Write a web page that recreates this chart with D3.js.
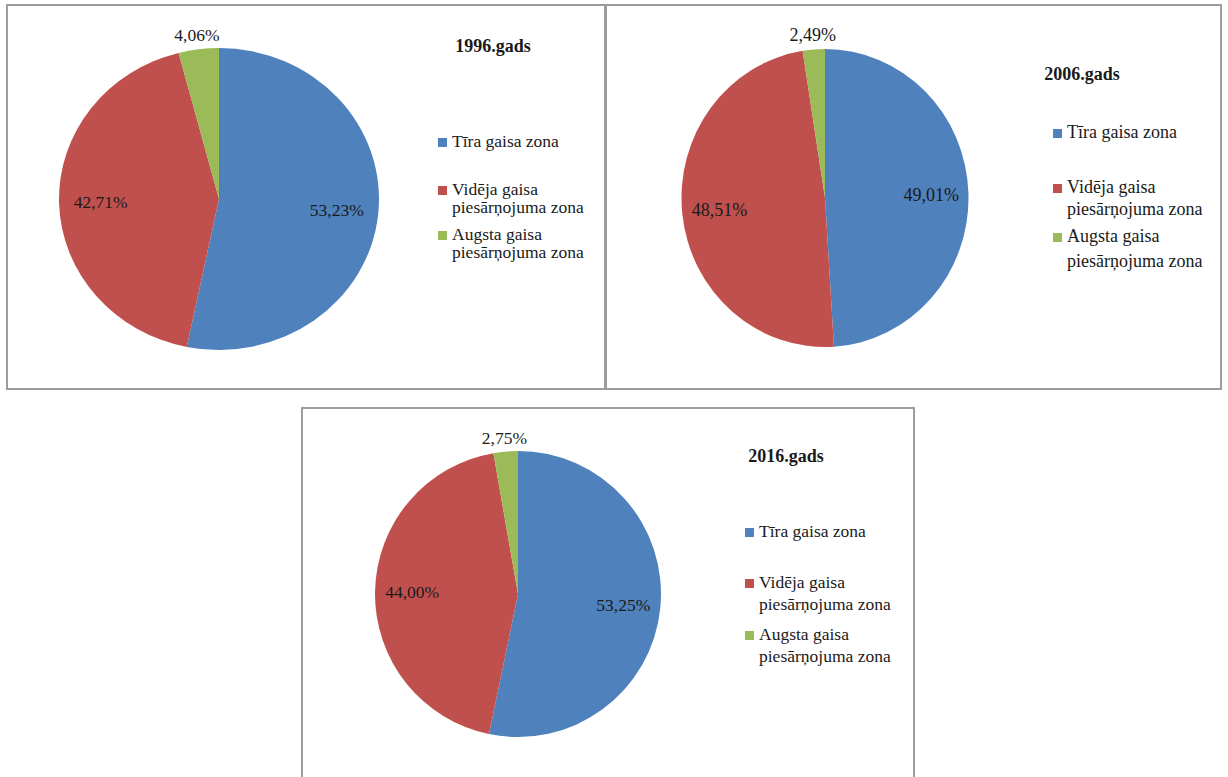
<!DOCTYPE html>
<html>
<head>
<meta charset="utf-8">
<script src="https://cdn.jsdelivr.net/npm/d3@7"></script>
<style>
  html, body { margin: 0; padding: 0; background: #fff; }
  svg { display: block; }
</style>
</head>
<body>
<svg id="chart" width="1228" height="777"></svg>
<script>
// === DATA =====================================================
const years = ["1996.gads", "2006.gads", "2016.gads"];
const categories = ["Tīra gaisa zona", "Vidēja gaisa piesārņojuma zona", "Augsta gaisa piesārņojuma zona"];
const legendLines = [["Tīra gaisa zona"], ["Vidēja gaisa", "piesārņojuma zona"], ["Augsta gaisa", "piesārņojuma zona"]];
const values1996 = [53.23, 42.71, 4.06];
const values2006 = [49.01, 48.51, 2.49];
const values2016 = [53.25, 44.00, 2.75];
const seriesValues = [values1996, values2006, values2016];
const colors = ["#4F81BD", "#C0504D", "#9BBB59"];

const FONT = "'Liberation Serif', 'Times New Roman', Times, 'DejaVu Serif', serif";

// === LAYOUT (one entry per panel) =============================
const PANELS = [
    { box: [7, 5, 598, 384], cx: 219, cy: 199, rx: 160, ry: 151,
      title: [493, 52], fs: 17.5, legend: { x: 438, rows: [[147], [195, 213], [240, 258]] } },
    { box: [606, 5, 615, 384], cx: 825, cy: 198, rx: 143.5, ry: 149,
      title: [1082, 80], fs: 18, legend: { x: 1053, rows: [[138], [193, 215], [242, 267]] } },
    { box: [302, 408, 612, 390], cx: 518, cy: 594, rx: 143, ry: 143,
      title: [786, 462], fs: 17.5, legend: { x: 745, rows: [[537], [588, 610], [640, 662]] } }
];

const svg = d3.select("#chart");
const fmt = v => d3.format(".2f")(v).replace(".", ",") + "%";
const color = d3.scaleOrdinal().domain(categories).range(colors);

const pie = d3.pie().sort(null).value(d => d.value);

PANELS.forEach((p, i) => {
    const data = categories.map((c, k) => ({ cat: c, value: seriesValues[i][k] }));
    const arcs = pie(data);

    svg.append("rect")
        .attr("x", p.box[0]).attr("y", p.box[1])
        .attr("width", p.box[2]).attr("height", p.box[3])
        .attr("fill", "none").attr("stroke", "#9c9c9c").attr("stroke-width", 2);

    // pie drawn as circle of radius ry, stretched horizontally
    const arc = d3.arc().innerRadius(0).outerRadius(p.ry);
    svg.append("g")
        .attr("transform", `translate(${p.cx},${p.cy}) scale(${p.rx / p.ry},1)`)
        .selectAll("path")
        .data(arcs)
        .enter()
        .append("path")
        .attr("d", arc)
        .attr("fill", d => color(d.data.cat));

    // data labels: inside for big slices, outside for small
    svg.append("g").selectAll("text")
        .data(arcs)
        .enter()
        .append("text")
        .attr("font-family", FONT)
        .attr("fill", "#1a1a1a")
        .attr("text-anchor", "middle")
        .attr("dominant-baseline", "central")
        .attr("font-size", p.fs)
        .attr("x", d => {
            const a = (d.startAngle + d.endAngle) / 2;
            const r = d.value < 10 ? p.rx + 14 : p.rx * 0.74;
            return p.cx + r * Math.sin(a);
        })
        .attr("y", d => {
            const a = (d.startAngle + d.endAngle) / 2;
            const r = d.value < 10 ? p.ry + 14 : p.ry * 0.74;
            return p.cy - r * Math.cos(a);
        })
        .text(d => fmt(d.value));

    // title
    svg.append("text")
        .attr("font-family", FONT)
        .attr("fill", "#1a1a1a")
        .attr("x", p.title[0]).attr("y", p.title[1])
        .attr("text-anchor", "middle")
        .attr("font-weight", "bold")
        .attr("font-size", 18)
        .text(years[i]);

    // legend
    const lg = svg.append("g");
    legendLines.forEach((lines, k) => {
        const rows = p.legend.rows[k];
        lg.append("rect")
            .attr("x", p.legend.x).attr("y", rows[0] - 9)
            .attr("width", 9).attr("height", 9)
            .attr("fill", colors[k]);
        lines.forEach((ln, j) => {
            lg.append("text")
                .attr("font-family", FONT)
                .attr("fill", "#1a1a1a")
                .attr("x", p.legend.x + 14).attr("y", rows[j])
                .attr("font-size", p.fs)
                .text(ln);
        });
    });
});
</script>
</body>
</html>
